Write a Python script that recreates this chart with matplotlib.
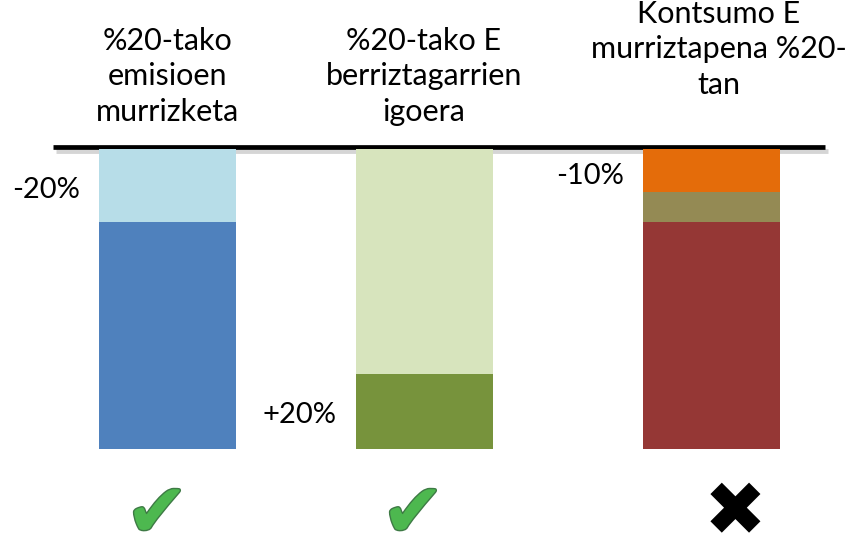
import matplotlib
matplotlib.use("Agg")
import matplotlib.pyplot as plt
import matplotlib.patheffects as pe

# Data (share of each bar, top to bottom, percent of bar height)
categories = ["%20-tako\nemisioen\nmurrizketa",
              "%20-tako E\nberriztagarrien\nigoera",
              "Kontsumo E\nmurriztapena %20-\ntan"]
emis_parts = [24.3, 75.7]
renew_parts = [75.0, 25.0]
cons_parts = [14.3, 10.0, 75.7]
value_labels = ["-20%", "+20%", "-10%"]
verdicts = ["ok", "ok", "fail"]

emis_colors = ["#B7DDE8", "#4F81BD"]
renew_colors = ["#D7E4BD", "#77933C"]
cons_colors = ["#E46C0A", "#948A54", "#953735"]

W, H = 853, 553
fig = plt.figure(figsize=(W / 100, H / 100), dpi=100)

ov = fig.add_axes([0, 0, 1, 1])
ov.set_xlim(0, W)
ov.set_ylim(H, 0)
ov.axis("off")

bar_top, bar_bot = 149, 449
bx = fig.add_axes([0, (H - bar_bot) / H, 1, (bar_bot - bar_top) / H])
bx.set_xlim(0, W)
bx.set_ylim(100, 0)
bx.axis("off")

bar_x = [167.5, 424.5, 711.5]
bar_w = 137

for xpos, parts, cols in zip(bar_x, [emis_parts, renew_parts, cons_parts],
                             [emis_colors, renew_colors, cons_colors]):
    bottom = 0
    for p, c in zip(parts, cols):
        bx.bar(xpos, p, bottom=bottom, width=bar_w, color=c, linewidth=0)
        bottom += p

ov.plot([56, 828], [150.5, 150.5], color="#888888", lw=3.5, alpha=0.35,
        solid_capstyle="butt", zorder=2)
ov.plot([53, 825], [147, 147], color="black", lw=3.4, solid_capstyle="butt", zorder=3)

font = "Lato"
title_pos = [(168, 27), (424, 27), (719, 0)]
for (tx, ty), t in zip(title_pos, categories):
    ov.text(tx, ty, t, ha="center", va="top", fontsize=22, family=font,
            linespacing=1.32, color="black")

label_pos = [(46, 190), (300, 415), (590, 176)]
for (lx, ly), t in zip(label_pos, value_labels):
    ov.text(lx, ly, t, ha="center", va="center", fontsize=21, family=font, color="black")

mark_x = [157, 413, 735]
for mx, v in zip(mark_x, verdicts):
    if v == "ok":
        ov.text(mx, 516, "\u2714", ha="center", va="center", fontsize=54,
                family="DejaVu Sans", color="#4DB84F",
                path_effects=[pe.withStroke(linewidth=2, foreground="#3E7A45")])
    else:
        ov.text(mx, 515, "\u2716", ha="center", va="center", fontsize=54,
                family="DejaVu Sans", color="black")

fig.savefig("out.png", dpi=100)
